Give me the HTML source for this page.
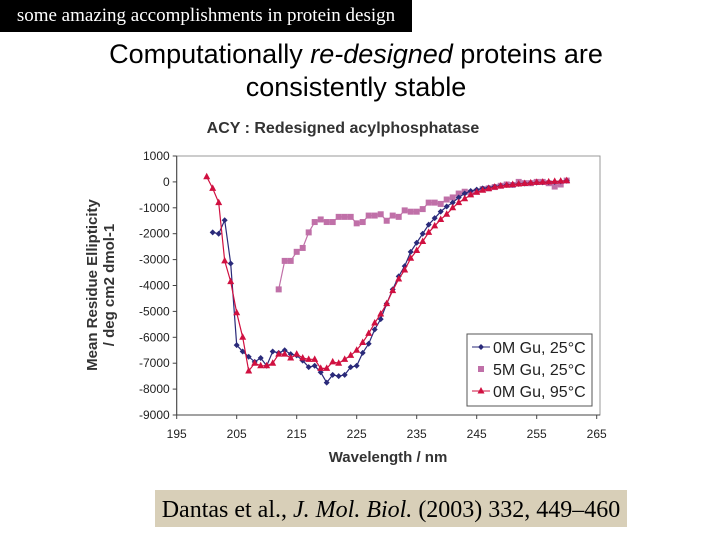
<!DOCTYPE html>
<html><head><meta charset="utf-8">
<style>
body{margin:0;width:720px;height:540px;background:#fff;position:relative;overflow:hidden;font-family:"Liberation Sans",sans-serif}
#hdr{position:absolute;left:0;top:0;width:412px;height:32px;background:#000;color:#fff;font-family:"Liberation Serif",serif;font-size:19px;line-height:32px;text-align:center}
#ttl{position:absolute;left:0;width:712px;top:38px;text-align:center;font-size:27px;line-height:33px;color:#000}
#cite{position:absolute;left:155px;top:490px;width:472px;height:37px;background:#d8cfb8;font-family:"Liberation Serif",serif;font-size:24px;line-height:40px;text-align:center;color:#000}
svg{position:absolute;left:0;top:0}
</style></head><body>
<div id="hdr">some amazing accomplishments in protein design</div>
<div id="ttl">Computationally <i>re-designed</i> proteins are<br>consistently stable</div>
<svg id="chart" width="720" height="540"></svg>
<div id="cite">Dantas et al., <i>J. Mol. Biol.</i> (2003) 332, 449–460</div>
<script>
const xTicks=[195,205,215,225,235,245,255,265];
const yTicks=[1000,0,-1000,-2000,-3000,-4000,-5000,-6000,-7000,-8000,-9000];
const blueX=[201,202,203,204,205,206,207,208,209,210,211,212,213,214,215,216,217,218,219,220,221,222,223,224,225,226,227,228,229,230,231,232,233,234,235,236,237,238,239,240,241,242,243,244,245,246,247,248,249,250,251,252,253,254,255,256,257,258,259,260];
const blueY=[-1950,-2000,-1480,-3150,-6300,-6550,-6750,-6950,-6800,-7100,-6550,-6600,-6500,-6650,-6700,-6900,-7150,-7100,-7350,-7750,-7450,-7500,-7450,-7150,-7100,-6600,-6250,-5700,-5300,-4700,-4150,-3650,-3250,-2700,-2350,-2000,-1650,-1400,-1150,-950,-800,-600,-450,-350,-300,-250,-220,-180,-150,-120,-100,-80,-60,-40,-30,-20,-10,0,20,50];
const pinkX=[212,213,214,215,216,217,218,219,220,221,222,223,224,225,226,227,228,229,230,231,232,233,234,235,236,237,238,239,240,241,242,243,244,245,246,247,248,249,250,251,252,253,254,255,256,257,258,259,260];
const pinkY=[-4150,-3050,-3050,-2700,-2550,-1950,-1550,-1450,-1550,-1550,-1350,-1350,-1350,-1600,-1550,-1300,-1300,-1250,-1500,-1300,-1350,-1100,-1150,-1150,-1050,-800,-800,-850,-680,-600,-450,-380,-420,-380,-280,-250,-200,-150,-100,-120,0,-50,-50,0,0,-50,-180,-100,50];
const redX=[200,201,202,203,204,205,206,207,208,209,210,211,212,213,214,215,216,217,218,219,220,221,222,223,224,225,226,227,228,229,230,231,232,233,234,235,236,237,238,239,240,241,242,243,244,245,246,247,248,249,250,251,252,253,254,255,256,257,258,259,260];
const redY=[200,-250,-800,-3050,-3850,-5050,-6000,-7300,-7000,-7100,-7100,-7000,-6650,-6650,-6800,-6650,-6800,-6850,-6850,-7200,-7200,-6950,-7000,-6850,-6700,-6500,-6200,-5850,-5450,-5100,-4700,-4200,-3750,-3400,-2950,-2650,-2300,-1950,-1700,-1450,-1250,-1000,-800,-650,-500,-400,-320,-260,-200,-160,-130,-100,-80,-60,-40,-20,-10,0,20,30,50];
const legendLabels=["0M Gu, 25°C","5M Gu, 25°C","0M Gu, 95°C"];
const L=176.7,R=600,T=156,B=415;
const xs=v=>L+(v-195)*6;
const ys=v=>T+(1000-v)*(B-T)/10000;
const svg=document.getElementById('chart');
const NS='http://www.w3.org/2000/svg';
function mk(tag,attrs,parent){const e=document.createElementNS(NS,tag);for(const k in attrs)e.setAttribute(k,attrs[k]);(parent||svg).appendChild(e);return e;}
let t=mk('text',{x:343,y:133,'text-anchor':'middle','font-size':16,'font-weight':'bold',fill:'#333'});t.textContent='ACY : Redesigned acylphosphatase';


let fr=mk('rect',{x:L,y:T,width:R-L,height:B-T,fill:'none',stroke:'#999'});


mk('line',{x1:L,y1:T,x2:L,y2:B,stroke:'#444'});
mk('line',{x1:L,y1:B,x2:R,y2:B,stroke:'#444'});
yTicks.forEach(v=>{const y=ys(v);mk('line',{x1:L-4,y1:y,x2:L,y2:y,stroke:'#444'});
const e=mk('text',{x:L-7,y:y+4,'text-anchor':'end','font-size':12,fill:'#222'});e.textContent=v;

});
xTicks.forEach(v=>{const x=xs(v);mk('line',{x1:x,y1:B,x2:x,y2:B+4,stroke:'#444'});
const e=mk('text',{x:x,y:B+23,'text-anchor':'middle','font-size':12,fill:'#222'});e.textContent=v;

});
t=mk('text',{x:388,y:462,'text-anchor':'middle','font-size':15,'font-weight':'bold',fill:'#333'});t.textContent='Wavelength / nm';


t=mk('text',{transform:'translate(97,285) rotate(-90)','text-anchor':'middle','font-size':15,'font-weight':'bold',fill:'#333'});t.textContent='Mean Residue Ellipticity';


t=mk('text',{transform:'translate(114,285) rotate(-90)','text-anchor':'middle','font-size':15,'font-weight':'bold',fill:'#333'});t.textContent='/ deg cm2 dmol-1';


function marker(g,shape,x,y,c){
 if(shape==='d')mk('polygon',{points:`${x},${y-3} ${x+3},${y} ${x},${y+3} ${x-3},${y}`,fill:c},g);
 else if(shape==='s')mk('rect',{x:x-3,y:y-3,width:6,height:6,fill:c},g);
 else mk('polygon',{points:`${x},${y-4} ${x+3.5},${y+2.5} ${x-3.5},${y+2.5}`,fill:c},g);
}
function series(X,Y,c,shape,name){
 const g=mk('g',{});
 
 
 mk('polyline',{points:X.map((x,i)=>xs(x)+','+ys(Y[i])).join(' '),fill:'none',stroke:c,'stroke-width':1.2},g);
 X.forEach((x,i)=>marker(g,shape,xs(x),ys(Y[i]),c));
}
series(pinkX,pinkY,'#c070a8','s','series-5m-gu-25c');
series(blueX,blueY,'#2a2a7a','d','series-0m-gu-25c');
series(redX,redY,'#d01040','t','series-0m-gu-95c');
const lg=mk('g',{});


mk('rect',{x:467,y:334,width:125,height:72,fill:'#fff',stroke:'#555'},lg);
const cols=['#2a2a7a','#c070a8','#d01040'],sh=['d','s','t'];
legendLabels.forEach((lab,i)=>{const y=347+i*22;
 if(i!==1)mk('line',{x1:472,y1:y,x2:490,y2:y,stroke:cols[i]},lg);
 marker(lg,sh[i],481,y,cols[i]);
 const e=mk('text',{x:493,y:y+6,'font-size':16,fill:'#222'},lg);e.textContent=lab;
 
 });
</script>
</body></html>
